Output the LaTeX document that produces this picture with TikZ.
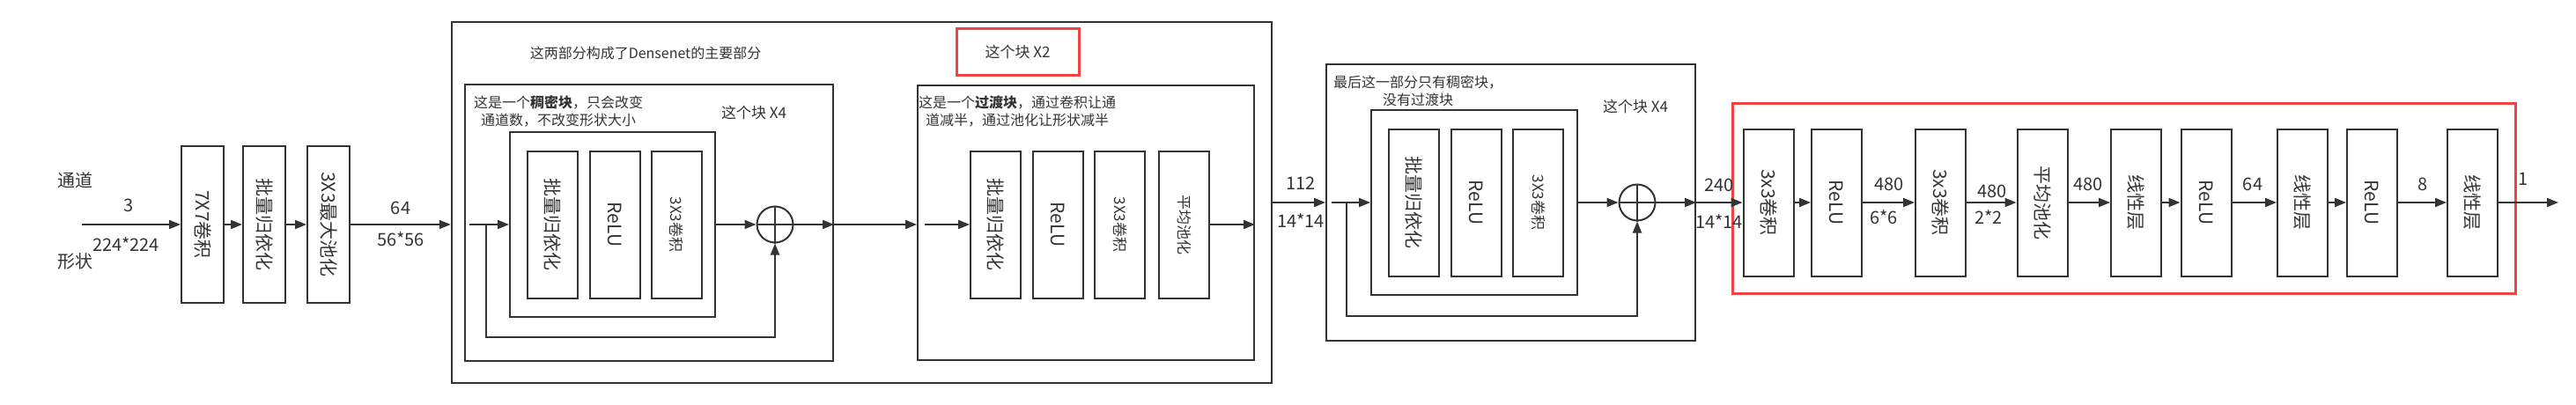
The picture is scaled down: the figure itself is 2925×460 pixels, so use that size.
\documentclass[tikz,border=0pt]{standalone}
\usepackage{fontspec}
\setmainfont{Noto Sans CJK SC}
\usepackage{graphicx}
\usetikzlibrary{arrows.meta}
\definecolor{dgray}{HTML}{333333}
\definecolor{boxred}{HTML}{F04343}
\newcommand{\vtext}[1]{\rotatebox[origin=c]{-90}{#1}}

\begin{document}
\begin{tikzpicture}[x=1pt,y=-1pt,
  every node/.style={text=dgray},
  layer/.style={draw=dgray, line width=2pt, minimum width=57pt, minimum height=167pt, inner sep=0pt, font=\fontsize{21}{25}\selectfont},
  small/.style={font=\fontsize{17}{20}\selectfont},
  frame/.style={draw=dgray, line width=2pt, inner sep=0pt},
  sum/.style={draw=dgray, line width=2pt, circle, minimum size=41pt, inner sep=0pt},
  num/.style={font=\fontsize{20}{24}\selectfont, inner sep=0pt},
  note/.style={font=\fontsize{16}{20}\selectfont, align=center, inner sep=0pt},
  arr/.style={draw=dgray, line width=2pt, -{Triangle[length=13pt,width=10pt]}}]
\useasboundingbox (0,0) rectangle (2925,460);
% stem
\coordinate (src) at (93,255);
\node[num] (chlab) at (85,205) {通道};
\node[num] (shlab) at (85,297) {形状};
\node[num] (c3)    at (146,233) {3};
\node[num] (s224)  at (143,278) {224*224};
\node[layer, minimum width=48pt, minimum height=178pt] (conv7) at (230,255) {\vtext{7X7卷积}};
\node[layer, minimum width=48pt, minimum height=178pt] (bn0)   at (300,255) {\vtext{批量归依化}};
\node[layer, minimum width=48pt, minimum height=178pt] (pool0) at (373,255) {\vtext{3X3最大池化}};
\draw[arr] (src)   -- (conv7);
\draw[arr] (conv7) -- (bn0);
\draw[arr] (bn0)   -- (pool0);
% main part: dense block + transition block
\node[frame, line width=2.5pt, minimum width=931pt, minimum height=410pt] (main) at (978.5,230) {};
\node[note] (maintitle) at (733,60) {这两部分构成了Densenet的主要部分};
\draw[arr] (pool0) -- (pool0 -| main.west);
\node[num] (c64) at (455,236) {64};
\node[num] (s56) at (455,272) {56*56};
% dense block
\node[frame, minimum width=418pt, minimum height=314pt] (dense1) at (737,253) {};
\node[note] (d1txt) at (634,126) {这是一个\textbf{稠密块}，只会改变\\通道数，不改变形状大小};
\node[note, small] (d1x) at (856,128) {这个块 X4};
\node[frame, minimum width=233pt, minimum height=210pt] (inner1) at (695.5,255) {};
\node[layer] (d1bn)   at (627,255) {\vtext{批量归依化}};
\node[layer] (d1relu) at (698,255) {\vtext{ReLU}};
\node[layer, small] (d1cv) at (768,255) {\vtext{3X3卷积}};
\node[sum] (sum1) at (880,255) {};
\draw[dgray, line width=2pt] (sum1.north) -- (sum1.south) (sum1.west) -- (sum1.east);
\coordinate (d1in)   at (533,255);
\coordinate (d1skip) at (552,255);
\draw[arr] (d1in) -- (inner1);
\draw[arr] (d1skip) -- ++(0,128) -| (sum1);
\draw[arr] (inner1) -- (sum1);
\draw[arr] (sum1) -- (sum1 -| dense1.east);
% transition block
\node[frame, draw=boxred, line width=3pt, minimum width=139pt, minimum height=52pt, small] (rep2) at (1155.5,59) {这个块 X2};
\node[frame, minimum width=382pt, minimum height=312pt] (trans) at (1233,253) {};
\node[note] (ttxt) at (1155,126) {这是一个\textbf{过渡块}，通过卷积让通\\道减半，通过池化让形状减半};
\draw[arr] (sum1 -| dense1.east) -- (sum1 -| trans.west);
\node[layer] (tbn)   at (1130.5,255) {\vtext{批量归依化}};
\node[layer] (trelu) at (1201.5,255) {\vtext{ReLU}};
\node[layer, small] (tcv)   at (1271.5,255) {\vtext{3X3卷积}};
\node[layer, small] (tpool) at (1344.5,255) {\vtext{平均池化}};
\coordinate (tin) at (1050,255);
\draw[arr] (tin) -- (tbn);
\draw[arr] (tpool) -- (tpool -| trans.east);
% last dense block
\node[frame, minimum width=419pt, minimum height=314pt] (dense2) at (1715.5,230) {};
\draw[arr] (main.east) -- (dense2.west);
\node[num] (c112) at (1477,208) {112};
\node[num] (s14a) at (1477,251) {14*14};
\node[note] (d2txt) at (1610,103) {最后这一部分只有稠密块，\\没有过渡块};
\node[note, small] (d2x) at (1857,121) {这个块 X4};
\node[frame, minimum width=234pt, minimum height=210pt] (inner2) at (1674,230) {};
\node[layer] (fbn)   at (1605.5,230) {\vtext{批量归依化}};
\node[layer] (frelu) at (1676.5,230) {\vtext{ReLU}};
\node[layer, small] (fcv) at (1746.5,230) {\vtext{3X3卷积}};
\node[sum] (sum2) at (1859,230) {};
\draw[dgray, line width=2pt] (sum2.north) -- (sum2.south) (sum2.west) -- (sum2.east);
\coordinate (d2in)   at (1512,230);
\coordinate (d2skip) at (1529,230);
\draw[arr] (d2in) -- (inner2);
\draw[arr] (d2skip) -- ++(0,129) -| (sum2);
\draw[arr] (inner2) -- (sum2);
\draw[arr] (sum2) -- (sum2 -| dense2.east);
% head
\node[frame, draw=boxred, line width=3pt, minimum width=889pt, minimum height=216pt] (head) at (2411.5,225) {};
\node[layer] (h1) at (2008,230)   {\vtext{3x3卷积}};
\node[layer] (h2) at (2085.5,230) {\vtext{ReLU}};
\node[layer] (h3) at (2203.5,230) {\vtext{3x3卷积}};
\node[layer] (h4) at (2319,230)   {\vtext{平均池化}};
\node[layer] (h5) at (2425.5,230) {\vtext{线性层}};
\node[layer] (h6) at (2505,230)   {\vtext{ReLU}};
\node[layer] (h7) at (2614.5,230) {\vtext{线性层}};
\node[layer] (h8) at (2693.5,230) {\vtext{ReLU}};
\node[layer] (h9) at (2807.5,230) {\vtext{线性层}};
\coordinate (out) at (2905,230);
\draw[arr] (dense2.east) -- (h1);
\draw[arr] (h1) -- (h2);
\draw[arr] (h2) -- (h3);
\draw[arr] (h3) -- (h4);
\draw[arr] (h4) -- (h5);
\draw[arr] (h5) -- (h6);
\draw[arr] (h6) -- (h7);
\draw[arr] (h7) -- (h8);
\draw[arr] (h8) -- (h9);
\draw[arr] (h9) -- (out);
% sizes along the head
\node[num] (c240) at (1952,210) {240};
\node[num] (s14b) at (1952,252) {14*14};
\node[num] (c480a) at (2145,209) {480};
\node[num] (s6)    at (2139,247) {6*6};
\node[num] (c480b) at (2262,217) {480};
\node[num] (s2)    at (2258,247) {2*2};
\node[num] (c480c) at (2371,209) {480};
\node[num] (c64b)  at (2558,209) {64};
\node[num] (c8)    at (2751,209) {8};
\node[num] (c1)    at (2865,203) {1};
\end{tikzpicture}
\end{document}
